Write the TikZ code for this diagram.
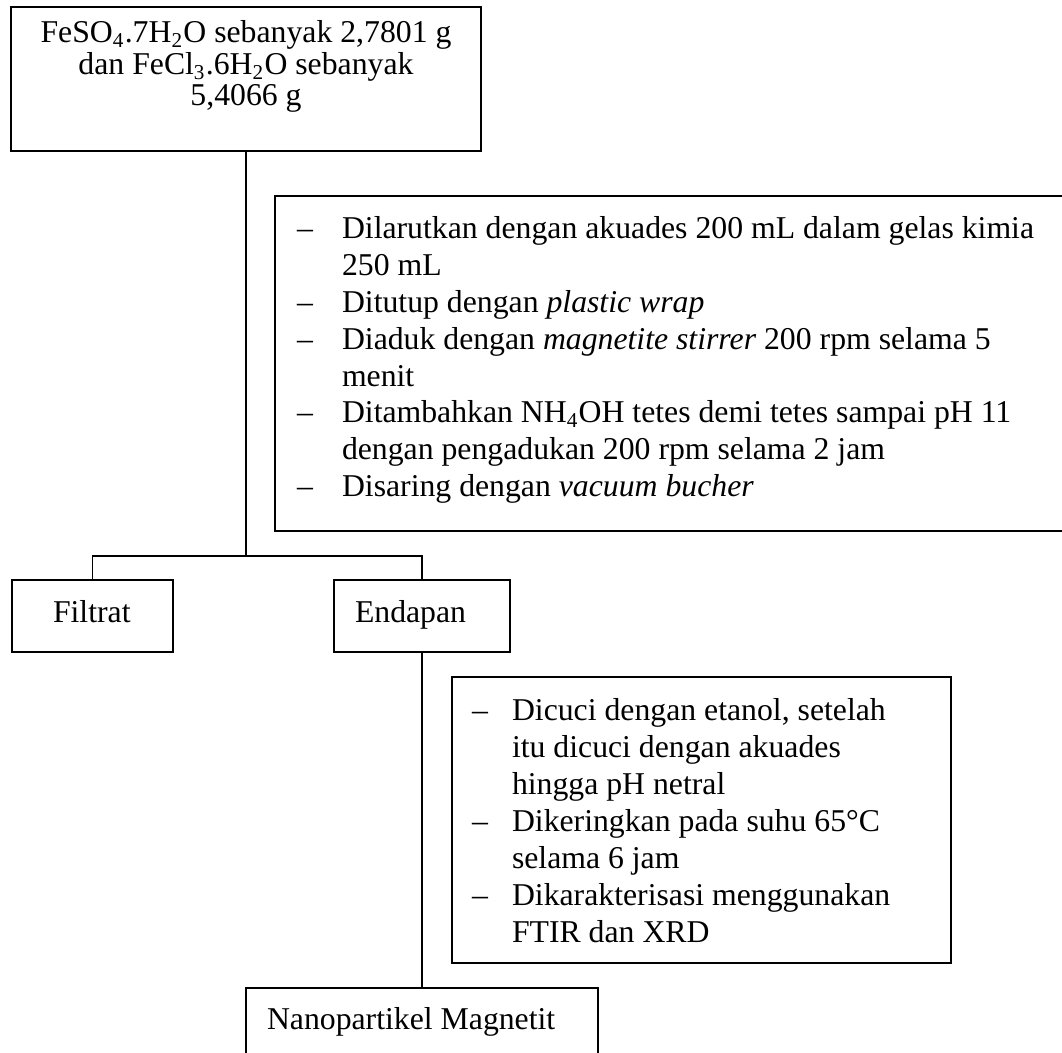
\documentclass[tikz,border=0pt]{standalone}
\usepackage{fontspec}
\setmainfont{Liberation Serif}
\begin{document}
\begin{tikzpicture}[x=0.378pt, y=-0.378pt, line width=0.75pt,
  box/.style={draw, rectangle, inner sep=0pt, outer sep=0pt},
  txt/.style={inner sep=0pt, outer sep=0pt, anchor=base west, font=\fontsize{12pt}{14pt}\selectfont},
  ctxt/.style={txt, anchor=base}]
\useasboundingbox (0,0) rectangle (1062,1053);
\fill[white] (0,0) rectangle (1062,1053);

% boxes
\node[box, minimum width={470*0.378pt}, minimum height={144*0.378pt}] (start) at (246,79) {};
\node[box, minimum width={800*0.378pt}, minimum height={335*0.378pt}] (proc1) at (675,363.5) {};
\node[box, minimum width={161*0.378pt}, minimum height={72*0.378pt}] (filtrat) at (92.5,616) {};
\node[box, minimum width={176*0.378pt}, minimum height={72*0.378pt}] (endapan) at (422,616) {};
\node[box, minimum width={499*0.378pt}, minimum height={286*0.378pt}] (proc2) at (701.5,820) {};
\node[box, minimum width={352*0.378pt}, minimum height={82*0.378pt}] (product) at (422,1029) {};

% connectors
\coordinate (bar) at (246,556);
\draw (start.south) -- (bar);
\draw (filtrat.north) |- (bar) -| (endapan.north);
\draw (endapan.south) -- (product.north);

% top box text
\node[ctxt] (s1) at (246,42.7) {FeSO\textsubscript{4}.7H\textsubscript{2}O sebanyak 2,7801 g};
\node[ctxt] (s2) at (246,74.4) {dan FeCl\textsubscript{3}.6H\textsubscript{2}O sebanyak};
\node[ctxt] (s3) at (246,106) {5,4066 g};

% procedure 1
\node[txt] (d11) at (297,239) {–};
\node[txt] (p11) at (342,239) {Dilarutkan dengan akuades 200 mL dalam gelas kimia};
\node[txt] (p12) at (342,275.8) {250 mL};
\node[txt] (d12) at (297,312.6) {–};
\node[txt] (p13) at (342,312.6) {Ditutup dengan \textit{plastic wrap}};
\node[txt] (d13) at (297,349.4) {–};
\node[txt] (p14) at (342,349.4) {Diaduk dengan \textit{magnetite stirrer} 200 rpm selama 5};
\node[txt] (p15) at (342,386.2) {menit};
\node[txt] (d14) at (297,423) {–};
\node[txt] (p16) at (342,423) {Ditambahkan NH\textsubscript{4}OH tetes demi tetes sampai pH 11};
\node[txt] (p17) at (342,459.8) {dengan pengadukan 200 rpm selama 2 jam};
\node[txt] (d15) at (297,496.6) {–};
\node[txt] (p18) at (342,496.6) {Disaring dengan \textit{vacuum bucher}};

% filtrat / endapan
\node[txt] (lf) at (53,622) {Filtrat};
\node[txt] (le) at (355,622) {Endapan};

% procedure 2
\node[txt] (d21) at (472,720) {–};
\node[txt] (q21) at (512,720) {Dicuci dengan etanol, setelah};
\node[txt] (q22) at (512,757) {itu dicuci dengan akuades};
\node[txt] (q23) at (512,794) {hingga pH netral};
\node[txt] (d22) at (472,831) {–};
\node[txt] (q24) at (512,831) {Dikeringkan pada suhu 65°C};
\node[txt] (q25) at (512,868) {selama 6 jam};
\node[txt] (d23) at (472,905) {–};
\node[txt] (q26) at (512,905) {Dikarakterisasi menggunakan};
\node[txt] (q27) at (512,942) {FTIR dan XRD};

% product
\node[txt] (lp) at (267,1029) {Nanopartikel Magnetit};
\end{tikzpicture}
\end{document}
